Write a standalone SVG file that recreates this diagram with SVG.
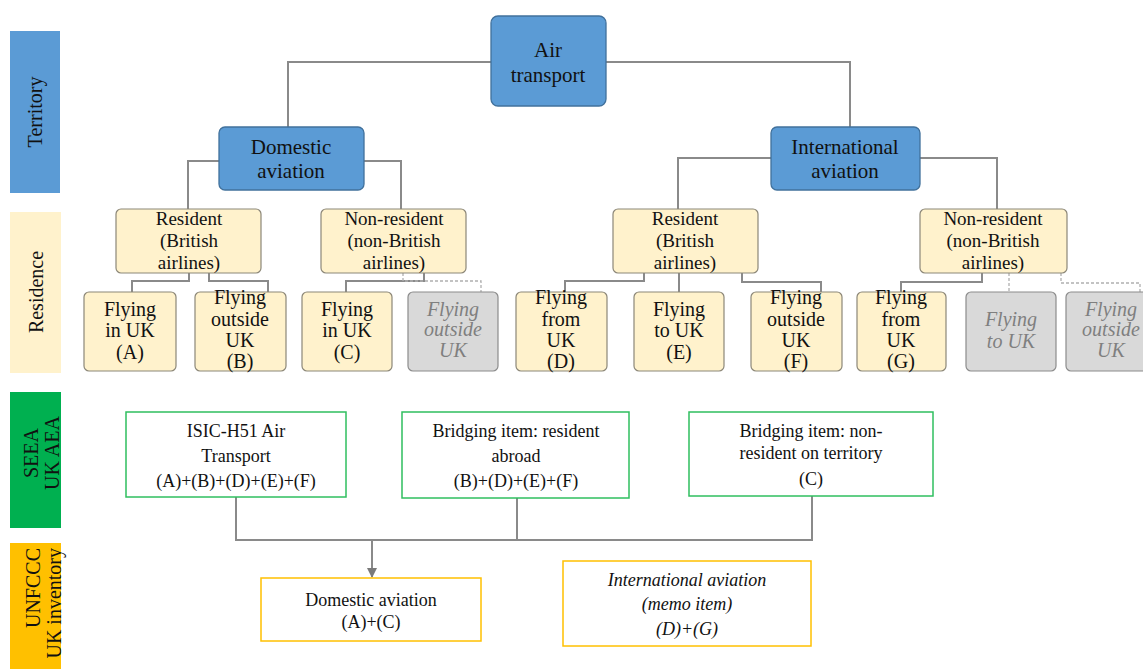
<svg xmlns="http://www.w3.org/2000/svg" width="1143" height="669" viewBox="0 0 1143 669" font-family="'Liberation Serif','Times New Roman',serif">
<defs>
<style>
text{font-family:"Liberation Serif","Times New Roman",serif;fill:#111;text-anchor:middle}
.blue{fill:#5b9bd5;stroke:#41719c;stroke-width:1.3}
.res{fill:#fff2cc;stroke:#8c8778;stroke-width:1.2}
.grey{fill:#d9d9d9;stroke:#8c8c8c;stroke-width:1.2}
.seea{fill:#fff;stroke:#2fbf5f;stroke-width:1.5}
.unf{fill:#fff;stroke:#ffc000;stroke-width:1.5}
.t21{font-size:21px}
.t19{font-size:19px}
.t20{font-size:20px}
.t18{font-size:18px}
.gi{font-style:italic;fill:#7f7f7f}
.it{font-style:italic}
.side{font-size:20px}
.conn{fill:none;stroke:#8a8a8a;stroke-width:2}
.dash{fill:none;stroke:#b0b0b0;stroke-width:1.3;stroke-dasharray:3 2}
</style>
<marker id="arr" viewBox="0 0 10 10" refX="9" refY="5" markerWidth="5" markerHeight="5" orient="auto">
<path d="M0,0 L10,5 L0,10 z" fill="#7a7a7a"/>
</marker>
</defs>
<rect width="1143" height="669" fill="#fff"/>

<g id="side-labels" font-family="'Liberation Serif','Times New Roman',serif">
<rect x="10" y="31" width="50" height="162" fill="#5b9bd5"/>
<text class="side" transform="translate(42,112) rotate(-90)">Territory</text>
<rect x="10" y="212" width="51" height="161" fill="#fff2cc"/>
<text class="side" transform="translate(43,292) rotate(-90)">Residence</text>
<rect x="10" y="392" width="51" height="136" fill="#00b050"/>
<text class="side" transform="translate(38,453) rotate(-90)">SEEA</text>
<text class="side" transform="translate(59,453) rotate(-90)">UK AEA</text>
<rect x="10" y="543" width="51" height="126" fill="#ffc000"/>
<text class="side" style="text-anchor:end" transform="translate(40,548) rotate(-90)">UNFCCC</text>
<text class="side" style="text-anchor:end" transform="translate(61,548) rotate(-90)">UK inventory</text>
</g>

<g id="connectors">
<polyline class="conn" points="491,62 288,62 288,127"/>
<polyline class="conn" points="606,62 850,62 850,127"/>
<polyline class="conn" points="219,161 188,161 188,209"/>
<polyline class="conn" points="364,161 401,161 401,209"/>
<polyline class="conn" points="771,158 678,158 678,209"/>
<polyline class="conn" points="920,158 997,158 997,209"/>
<polyline class="conn" points="189,273 189,281 132,281 132,292"/>
<polyline class="conn" points="209,273 209,281 268,281 268,292"/>
<polyline class="conn" points="424,273 424,281 346,281 346,292"/>
<polyline class="dash" points="403,273 403,281 481,281 481,292"/>
<polyline class="conn" points="644,273 644,281 565,281 565,292"/>
<polyline class="conn" points="679,273 679,292"/>
<polyline class="conn" points="742,273 742,282 821,282 821,292"/>
<polyline class="conn" points="982,273 982,282 901,282 901,292"/>
<polyline class="dash" points="1009,273 1009,292"/>
<polyline class="dash" points="1061,273 1061,283 1140,283 1140,292"/>
<polyline class="conn" points="236,497 236,540 517,540 517,498"/>
<polyline class="conn" points="517,540 812,540 812,496"/>
<line class="conn" x1="372" y1="540" x2="372" y2="577" marker-end="url(#arr)"/>
</g>

<g id="nodes" font-family="'Liberation Serif','Times New Roman',serif">
<g id="air-transport">
<rect class="blue" x="491" y="16" width="115" height="90" rx="7"/>
<text class="t21" x="548" y="57">Air</text>
<text class="t21" x="548" y="82">transport</text>
</g>
<g id="domestic-aviation">
<rect class="blue" x="219" y="127" width="145" height="63" rx="6"/>
<text class="t21" x="291" y="154">Domestic</text>
<text class="t21" x="291" y="178">aviation</text>
</g>
<g id="international-aviation">
<rect class="blue" x="771" y="127" width="149" height="63" rx="6"/>
<text class="t21" x="845" y="154">International</text>
<text class="t21" x="845" y="178">aviation</text>
</g>

<g id="resident-dom">
<rect class="res" x="116" y="209" width="145" height="64" rx="5"/>
<text class="t19" x="189" y="225">Resident</text>
<text class="t19" x="189" y="247">(British</text>
<text class="t19" x="189" y="269">airlines)</text>
</g>
<g id="nonresident-dom">
<rect class="res" x="321" y="209" width="145" height="64" rx="5"/>
<text class="t19" x="394" y="225">Non-resident</text>
<text class="t19" x="394" y="247">(non-British</text>
<text class="t19" x="394" y="269">airlines)</text>
</g>
<g id="resident-int">
<rect class="res" x="613" y="209" width="145" height="64" rx="5"/>
<text class="t19" x="685" y="225">Resident</text>
<text class="t19" x="685" y="247">(British</text>
<text class="t19" x="685" y="269">airlines)</text>
</g>
<g id="nonresident-int">
<rect class="res" x="920" y="209" width="147" height="64" rx="5"/>
<text class="t19" x="993" y="225">Non-resident</text>
<text class="t19" x="993" y="247">(non-British</text>
<text class="t19" x="993" y="269">airlines)</text>
</g>

<g id="leaf-a">
<rect class="res" x="84" y="292" width="92" height="79" rx="5"/>
<text class="t20" x="130" y="316">Flying</text>
<text class="t20" x="130" y="337">in UK</text>
<text class="t20" x="130" y="359">(A)</text>
</g>
<g id="leaf-b">
<rect class="res" x="195" y="292" width="91" height="79" rx="5"/>
<text class="t20" x="240" y="304">Flying</text>
<text class="t20" x="240" y="326">outside</text>
<text class="t20" x="240" y="347">UK</text>
<text class="t20" x="240" y="368">(B)</text>
</g>
<g id="leaf-c">
<rect class="res" x="302" y="292" width="90" height="79" rx="5"/>
<text class="t20" x="347" y="316">Flying</text>
<text class="t20" x="347" y="337">in UK</text>
<text class="t20" x="347" y="359">(C)</text>
</g>
<g id="leaf-grey1">
<rect class="grey" x="408" y="292" width="90" height="79" rx="5"/>
<text class="t20 gi" x="453" y="316">Flying</text>
<text class="t20 gi" x="453" y="336">outside</text>
<text class="t20 gi" x="453" y="357">UK</text>
</g>
<g id="leaf-d">
<rect class="res" x="516" y="292" width="91" height="79" rx="5"/>
<text class="t20" x="561" y="304">Flying</text>
<text class="t20" x="561" y="326">from</text>
<text class="t20" x="561" y="347">UK</text>
<text class="t20" x="561" y="368">(D)</text>
</g>
<g id="leaf-e">
<rect class="res" x="634" y="292" width="90" height="79" rx="5"/>
<text class="t20" x="679" y="316">Flying</text>
<text class="t20" x="679" y="337">to UK</text>
<text class="t20" x="679" y="359">(E)</text>
</g>
<g id="leaf-f">
<rect class="res" x="751" y="292" width="91" height="79" rx="5"/>
<text class="t20" x="796" y="304">Flying</text>
<text class="t20" x="796" y="326">outside</text>
<text class="t20" x="796" y="347">UK</text>
<text class="t20" x="796" y="368">(F)</text>
</g>
<g id="leaf-g">
<rect class="res" x="857" y="292" width="89" height="79" rx="5"/>
<text class="t20" x="901" y="304">Flying</text>
<text class="t20" x="901" y="326">from</text>
<text class="t20" x="901" y="347">UK</text>
<text class="t20" x="901" y="368">(G)</text>
</g>
<g id="leaf-grey2">
<rect class="grey" x="966" y="292" width="90" height="79" rx="5"/>
<text class="t20 gi" x="1011" y="326">Flying</text>
<text class="t20 gi" x="1011" y="348">to UK</text>
</g>
<g id="leaf-grey3">
<rect class="grey" x="1066" y="292" width="90" height="79" rx="5"/>
<text class="t20 gi" x="1111" y="316">Flying</text>
<text class="t20 gi" x="1111" y="336">outside</text>
<text class="t20 gi" x="1111" y="357">UK</text>
</g>

<g id="isic">
<rect class="seea" x="126" y="412" width="220" height="85"/>
<text class="t18" x="236" y="437">ISIC-H51 Air</text>
<text class="t18" x="236" y="462">Transport</text>
<text class="t18" x="236" y="487">(A)+(B)+(D)+(E)+(F)</text>
</g>
<g id="bridge-resident">
<rect class="seea" x="402" y="412" width="227" height="86"/>
<text class="t18" x="516" y="437">Bridging item: resident</text>
<text class="t18" x="516" y="462">abroad</text>
<text class="t18" x="516" y="487">(B)+(D)+(E)+(F)</text>
</g>
<g id="bridge-nonresident">
<rect class="seea" x="689" y="412" width="244" height="84"/>
<text class="t18" x="811" y="437">Bridging item: non-</text>
<text class="t18" x="811" y="459">resident on territory</text>
<text class="t18" x="811" y="485">(C)</text>
</g>

<g id="unfccc-domestic">
<rect class="unf" x="261" y="578" width="220" height="63"/>
<text class="t18" x="371" y="606">Domestic aviation</text>
<text class="t18" x="371" y="628">(A)+(C)</text>
</g>
<g id="unfccc-international">
<rect class="unf" x="563" y="561" width="248" height="85"/>
<text class="t18 it" x="687" y="586">International aviation</text>
<text class="t18 it" x="687" y="610">(memo item)</text>
<text class="t18 it" x="687" y="635">(D)+(G)</text>
</g>
</g>
</svg>
